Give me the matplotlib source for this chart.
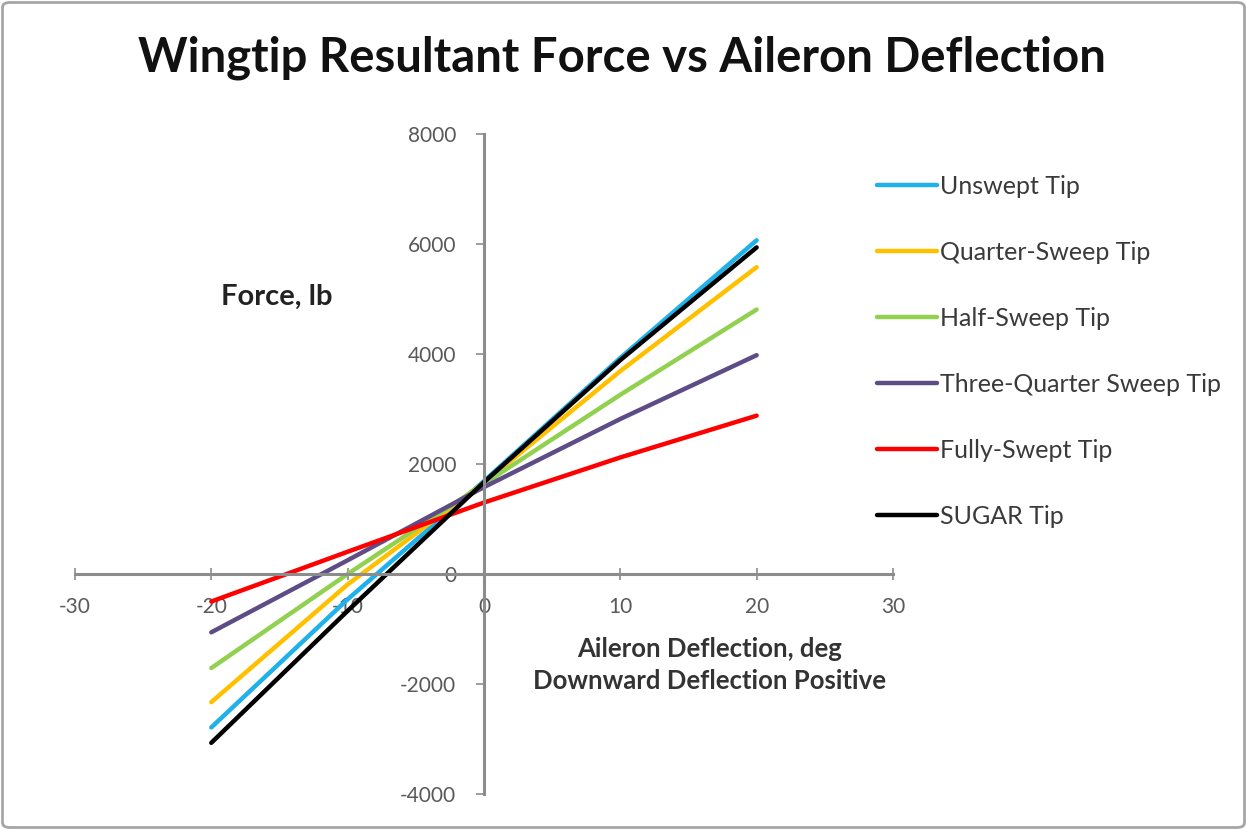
import matplotlib
matplotlib.use("Agg")
import matplotlib.pyplot as plt
from matplotlib.patches import FancyBboxPatch

# =======================
# DATA
# =======================

deflection = [-20, -10, 0, 10, 20]

unswept       = [-2790, -460, 1690, 3930, 6070]
quarter_sweep = [-2330, -190, 1660, 3690, 5580]
half_sweep    = [-1710,    0, 1640, 3260, 4810]
three_quarter = [-1060,  250, 1580, 2820, 3980]
fully_swept   = [ -500,  405, 1300, 2120, 2880]
sugar         = [-3070, -670, 1670, 3890, 5940]

series_labels = [
    "Unswept Tip",
    "Quarter-Sweep Tip",
    "Half-Sweep Tip",
    "Three-Quarter Sweep Tip",
    "Fully-Swept Tip",
    "SUGAR Tip",
]

x_ticks = [-30, -20, -10, 0, 10, 20, 30]
y_ticks = [-4000, -2000, 0, 2000, 4000, 6000, 8000]

# =======================
# STYLE
# =======================

colors = ["#1EB1EA", "#FFC000", "#92D050", "#5E4C86", "#FF0000", "#000000"]
AXIS_GRAY = "#8C8C8C"
TEXT_GRAY = "#595959"

plt.rcParams["font.family"] = ["Lato", "DejaVu Sans"]
plt.rcParams["axes.unicode_minus"] = False

fig = plt.figure(figsize=(12.47, 8.30), dpi=100)
ax = fig.add_axes([0.0601, 0.0434, 0.656, 0.795])

all_series = [unswept, quarter_sweep, half_sweep, three_quarter, fully_swept, sugar]
for vals, lab, c in zip(all_series, series_labels, colors):
    ax.plot(deflection, vals, color=c, linewidth=3.2, label=lab,
            solid_capstyle="round", solid_joinstyle="round")

ax.set_xlim(-30, 30)
ax.set_ylim(-4000, 8000)
ax.set_xticks(x_ticks)
ax.set_yticks(y_ticks)

# axes crossing at origin
ax.spines["left"].set_position(("data", 0))
ax.spines["bottom"].set_position(("data", 0))
ax.spines["top"].set_visible(False)
ax.spines["right"].set_visible(False)
for s in ("left", "bottom"):
    ax.spines[s].set_color(AXIS_GRAY)
    ax.spines[s].set_linewidth(2.2)

ax.tick_params(axis="x", direction="inout", length=9, width=1.2, color=AXIS_GRAY,
               labelsize=15, labelcolor=TEXT_GRAY, pad=12)
ax.tick_params(axis="y", direction="out", length=6, width=1.2, color=AXIS_GRAY,
               labelsize=15, labelcolor=TEXT_GRAY, pad=14)
ax.patch.set_alpha(0)

# title + labels
fig.text(0.499, 0.931, "Wingtip Resultant Force vs Aileron Deflection",
         ha="center", va="center", fontsize=34, fontweight="bold", color="#111111")
fig.text(0.222, 0.642, "Force, lb", ha="center", va="center",
         fontsize=21, fontweight="bold", color="#222222")
fig.text(0.569, 0.199, "Aileron Deflection, deg\nDownward Deflection Positive",
         ha="center", va="center", fontsize=18.5, fontweight="bold",
         color="#333333", linespacing=1.4)

ax.legend(loc="upper left", bbox_to_anchor=(0.98, 0.938), frameon=False,
          fontsize=18, labelspacing=1.72, handlelength=2.4, handletextpad=0.15,
          labelcolor="#3A3A3A", borderaxespad=0, borderpad=0)

# chart border
fig.patches.append(FancyBboxPatch((0.002, 0.003), 0.996, 0.994,
                                  boxstyle="round,pad=0,rounding_size=0.006",
                                  transform=fig.transFigure, fill=False,
                                  edgecolor="#A6A6A6", linewidth=2))

fig.savefig("out.png", dpi=100)
